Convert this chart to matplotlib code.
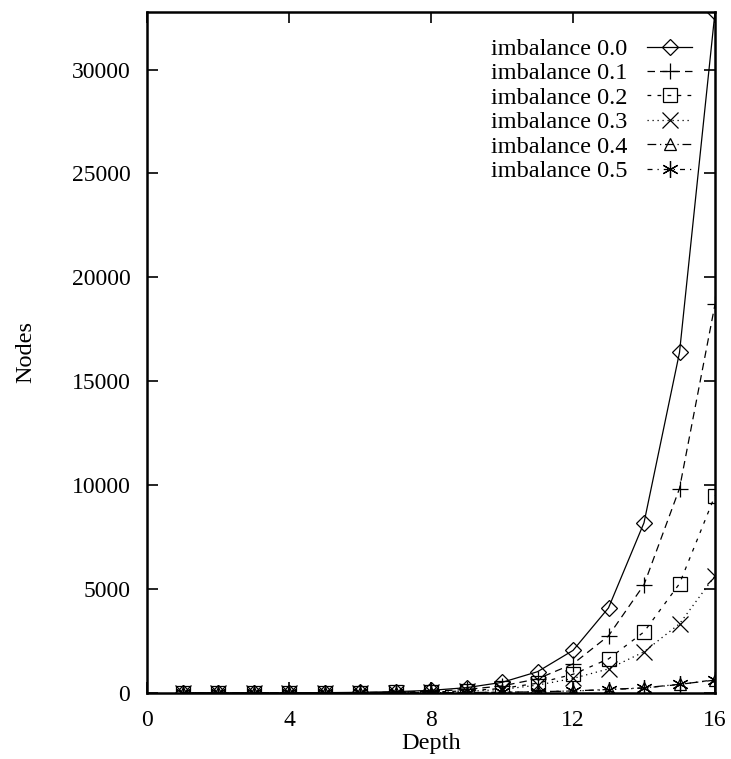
import numpy as np
import matplotlib
matplotlib.use('Agg')
import matplotlib.pyplot as plt

plt.rcParams['font.family'] = 'Liberation Serif'

depth = np.arange(1, 17)
imb00 = [1, 2, 4, 8, 16, 32, 64, 128, 256, 512, 1024, 2048, 4096, 8192, 16384, 32768]
imb01 = [1, 2, 3, 6, 11, 21, 40, 80, 170, 340, 680, 1400, 2750, 5210, 9840, 18700]
imb02 = [1, 2, 3, 5, 8, 14, 25, 48, 100, 220, 470, 900, 1640, 2940, 5260, 9500]
imb03 = [1, 2, 3, 4, 7, 11, 19, 36, 75, 170, 380, 700, 1160, 1980, 3330, 5640]
imb04 = [1, 2, 2, 3, 4, 6, 9, 14, 22, 38, 60, 100, 170, 250, 420, 620]
imb05 = [1, 2, 2, 3, 4, 5, 8, 12, 20, 35, 55, 95, 160, 240, 410, 640]

labels = ['imbalance 0.0', 'imbalance 0.1', 'imbalance 0.2',
          'imbalance 0.3', 'imbalance 0.4', 'imbalance 0.5']
series = [imb00, imb01, imb02, imb03, imb04, imb05]
markers = ['D', '+', 's', 'x', '^', (6, 2, 0)]
styles = ['-', (0, (6, 4)), (0, (3, 5)), (0, (1, 3)), (0, (7, 3, 1, 3)), (0, (4, 4, 1, 4))]
msizes = [8, 12, 10, 12, 9, 12]

fig = plt.figure(figsize=(7.31, 7.59), dpi=100)
ax = fig.add_axes([147 / 731, 1 - 693 / 759, (715 - 147) / 731, (693 - 12) / 759])

for ys, lab, m, ls, ms in zip(series, labels, markers, styles, msizes):
    ax.plot(depth, ys, color='black', linestyle=ls, linewidth=0.9,
            marker=m, markersize=ms, markerfacecolor='none',
            markeredgecolor='black', markeredgewidth=0.9, label=lab)

ax.set_xlim(0, 16)
ax.set_ylim(0, 32768)
ax.set_xticks([0, 4, 8, 12, 16])
ax.set_yticks([0, 5000, 10000, 15000, 20000, 25000, 30000])
ax.tick_params(direction='in', length=8, width=1.2, top=True, right=True,
               labelsize=17, pad=12)
for s in ax.spines.values():
    s.set_linewidth(1.8)

ax.set_xlabel('Depth', fontsize=17.5, labelpad=2)
ax.set_ylabel('Nodes', fontsize=17.5, labelpad=25)

ax.legend(loc='upper right', bbox_to_anchor=(692 / 731, 1 - 38 / 759),
          bbox_transform=fig.transFigure, frameon=False, markerfirst=False,
          fontsize=17.5, handlelength=1.85, labelspacing=0.1, handletextpad=0.8,
          borderpad=0, borderaxespad=0)

fig.savefig('out.png', dpi=100)
